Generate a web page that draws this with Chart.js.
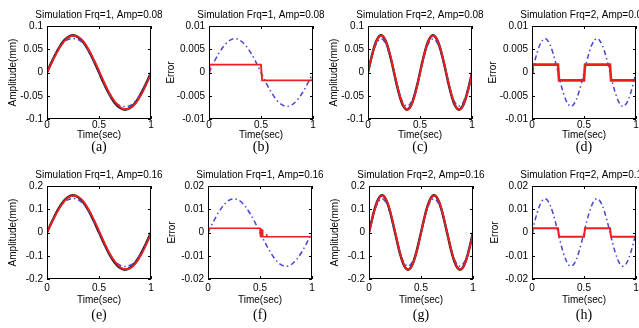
<!DOCTYPE html>
<html>
<head>
<meta charset="utf-8">
<script src="https://cdn.jsdelivr.net/npm/chart.js@4/dist/chart.umd.min.js"></script>
<style>
  html, body { margin: 0; padding: 0; background: #fff; }
  body { position: relative; width: 639px; height: 328px; overflow: hidden; }
  canvas { position: absolute; }
</style>
</head>
<body>
<script>
// time axes
const tF1 = [0, 0.05, 0.1, 0.15, 0.2, 0.25, 0.3, 0.35, 0.4, 0.45, 0.5, 0.55, 0.6, 0.65, 0.7, 0.75, 0.8, 0.85, 0.9, 0.95, 1];
const tF2 = [0, 0.025, 0.05, 0.075, 0.1, 0.125, 0.15, 0.175, 0.2, 0.225, 0.25, 0.275, 0.3, 0.325, 0.35, 0.375, 0.4, 0.425, 0.45, 0.475,
             0.5, 0.525, 0.55, 0.575, 0.6, 0.625, 0.65, 0.675, 0.7, 0.725, 0.75, 0.775, 0.8, 0.825, 0.85, 0.875, 0.9, 0.925, 0.95, 0.975, 1];

// (a) Frq=1, Amp=0.08
const refA = [0, 0.025, 0.047, 0.065, 0.076, 0.080, 0.076, 0.065, 0.047, 0.025, 0, -0.025, -0.047, -0.065, -0.076, -0.080, -0.076, -0.065, -0.047, -0.025, 0];
const outA = [0, 0.023, 0.045, 0.063, 0.075, 0.079, 0.077, 0.067, 0.050, 0.028, 0.004, -0.021, -0.044, -0.062, -0.074, -0.079, -0.077, -0.067, -0.050, -0.028, -0.003];
const estA = [0, 0.026, 0.047, 0.062, 0.071, 0.073, 0.071, 0.062, 0.046, 0.025, 0.001, -0.024, -0.046, -0.062, -0.071, -0.073, -0.071, -0.062, -0.046, -0.025, 0];

// (c) Frq=2, Amp=0.08
const refC = [0, 0.025, 0.047, 0.065, 0.076, 0.080, 0.076, 0.065, 0.047, 0.025, 0, -0.025, -0.047, -0.065, -0.076, -0.080, -0.076, -0.065, -0.047, -0.025,
              0, 0.025, 0.047, 0.065, 0.076, 0.080, 0.076, 0.065, 0.047, 0.025, 0, -0.025, -0.047, -0.065, -0.076, -0.080, -0.076, -0.065, -0.047, -0.025, 0];
const outC = [0, 0.023, 0.046, 0.064, 0.075, 0.079, 0.077, 0.066, 0.049, 0.027, 0.003, -0.022, -0.045, -0.063, -0.075, -0.079, -0.077, -0.066, -0.049, -0.027,
              -0.002, 0.023, 0.046, 0.064, 0.075, 0.079, 0.077, 0.066, 0.049, 0.027, 0.003, -0.022, -0.045, -0.063, -0.075, -0.079, -0.077, -0.066, -0.049, -0.027, -0.002];
const estC = [0, 0.024, 0.044, 0.059, 0.069, 0.072, 0.069, 0.059, 0.043, 0.023, 0, -0.023, -0.043, -0.059, -0.069, -0.072, -0.069, -0.059, -0.043, -0.023,
              0, 0.023, 0.043, 0.059, 0.069, 0.072, 0.069, 0.059, 0.043, 0.023, 0, -0.023, -0.043, -0.059, -0.069, -0.072, -0.069, -0.059, -0.043, -0.023, 0];

// (e) Frq=1, Amp=0.16
const refE = [0, 0.049, 0.094, 0.129, 0.152, 0.160, 0.152, 0.129, 0.094, 0.049, 0, -0.049, -0.094, -0.129, -0.152, -0.160, -0.152, -0.129, -0.094, -0.049, 0];
const outE = [0, 0.046, 0.090, 0.126, 0.150, 0.158, 0.154, 0.134, 0.100, 0.056, 0.008, -0.042, -0.088, -0.124, -0.148, -0.158, -0.154, -0.134, -0.100, -0.056, -0.006];
const estE = [0, 0.050, 0.092, 0.122, 0.140, 0.146, 0.141, 0.123, 0.092, 0.050, 0.002, -0.047, -0.091, -0.122, -0.140, -0.146, -0.141, -0.123, -0.092, -0.050, 0];

// (g) Frq=2, Amp=0.16
const refG = [0, 0.049, 0.094, 0.129, 0.152, 0.160, 0.152, 0.129, 0.094, 0.049, 0, -0.049, -0.094, -0.129, -0.152, -0.160, -0.152, -0.129, -0.094, -0.049,
              0, 0.049, 0.094, 0.129, 0.152, 0.160, 0.152, 0.129, 0.094, 0.049, 0, -0.049, -0.094, -0.129, -0.152, -0.160, -0.152, -0.129, -0.094, -0.049, 0];
const outG = [0, 0.046, 0.092, 0.128, 0.150, 0.158, 0.154, 0.132, 0.098, 0.054, 0.006, -0.044, -0.090, -0.126, -0.150, -0.158, -0.154, -0.132, -0.098, -0.054,
              -0.004, 0.046, 0.092, 0.128, 0.150, 0.158, 0.154, 0.132, 0.098, 0.054, 0.006, -0.044, -0.090, -0.126, -0.150, -0.158, -0.154, -0.132, -0.098, -0.054, -0.004];
const estG = [0, 0.047, 0.087, 0.119, 0.138, 0.145, 0.138, 0.119, 0.087, 0.046, 0, -0.046, -0.087, -0.119, -0.138, -0.145, -0.138, -0.119, -0.087, -0.046,
              0, 0.046, 0.087, 0.119, 0.138, 0.145, 0.138, 0.119, 0.087, 0.046, 0, -0.046, -0.087, -0.119, -0.138, -0.145, -0.138, -0.119, -0.087, -0.046, 0];

// error curves (blue dash-dot)
const errB = [0, 0.0023, 0.0043, 0.0059, 0.0069, 0.0073, 0.0069, 0.0059, 0.0043, 0.0023, 0, -0.0023, -0.0043, -0.0059, -0.0069, -0.0073, -0.0069, -0.0059, -0.0043, -0.0023, 0];
const errD = [0, 0.0023, 0.0043, 0.0059, 0.0069, 0.0073, 0.0069, 0.0059, 0.0043, 0.0023, 0, -0.0023, -0.0043, -0.0059, -0.0069, -0.0073, -0.0069, -0.0059, -0.0043, -0.0023,
              0, 0.0023, 0.0043, 0.0059, 0.0069, 0.0073, 0.0069, 0.0059, 0.0043, 0.0023, 0, -0.0023, -0.0043, -0.0059, -0.0069, -0.0073, -0.0069, -0.0059, -0.0043, -0.0023, 0];
const errF = [0, 0.0045, 0.0085, 0.0117, 0.0138, 0.0145, 0.0138, 0.0117, 0.0085, 0.0045, 0, -0.0045, -0.0085, -0.0117, -0.0138, -0.0145, -0.0138, -0.0117, -0.0085, -0.0045, 0];
const errH = [0, 0.0045, 0.0085, 0.0117, 0.0138, 0.0145, 0.0138, 0.0117, 0.0085, 0.0045, 0, -0.0045, -0.0085, -0.0117, -0.0138, -0.0145, -0.0138, -0.0117, -0.0085, -0.0045,
              0, 0.0045, 0.0085, 0.0117, 0.0138, 0.0145, 0.0138, 0.0117, 0.0085, 0.0045, 0, -0.0045, -0.0085, -0.0117, -0.0138, -0.0145, -0.0138, -0.0117, -0.0085, -0.0045, 0];

// switching error (red step lines)
const stepTB = [0, 0.005, 0.5, 0.51, 0.995, 1];
const stepB  = [0, 0.0017, 0.0017, -0.0017, -0.0017, 0];
const stepTD = [0, 0.005, 0.25, 0.26, 0.5, 0.51, 0.75, 0.76, 1];
const stepD  = [0, 0.0017, 0.0017, -0.0017, -0.0017, 0.0017, 0.0017, -0.0017, -0.0017];
const stepTF = [0, 0.005, 0.5, 0.503, 0.506, 0.51, 0.514, 0.518, 0.522, 0.526, 0.53, 0.56, 0.563, 0.566, 0.995, 1];
const stepF  = [0, 0.0018, 0.0018, -0.0018, 0.0018, -0.0018, 0.0016, -0.0018, 0.0012, -0.0018, -0.0018, -0.0018, -0.0006, -0.0018, -0.0018, 0];
const stepTH = [0, 0.005, 0.25, 0.26, 0.5, 0.51, 0.75, 0.76, 1];
const stepH  = [0, 0.0018, 0.0018, -0.0018, -0.0018, 0.0018, 0.0018, -0.0018, -0.0018];

// tick labels
const xTicks = [0, 0.5, 1];
const xLabels = ['0', '0.5', '1'];
const yTicks08 = [-0.1, -0.05, 0, 0.05, 0.1];
const yLabels08 = ['-0.1', '-0.05', '0', '0.05', '0.1'];
const yTicks16 = [-0.2, -0.1, 0, 0.1, 0.2];
const yLabels16 = ['-0.2', '-0.1', '0', '0.1', '0.2'];
const yTicksE1 = [-0.01, -0.005, 0, 0.005, 0.01];
const yLabelsE1 = ['-0.01', '-0.005', '0', '0.005', '0.01'];
const yTicksE2 = [-0.02, -0.01, 0, 0.01, 0.02];
const yLabelsE2 = ['-0.02', '-0.01', '0', '0.01', '0.02'];

Chart.defaults.color = '#000';
Chart.defaults.font.family = '"Liberation Sans", Arial, sans-serif';
Chart.defaults.font.size = 10;

const RED = 'rgb(238,30,30)';
const BLUE = 'rgb(70,70,210)';

function pts(xs, ys) {
  return xs.map((x, i) => ({ x: x, y: ys[i] }));
}

// Chart.js paints dataset 0 last, so the top-most line goes first
function ampSeries(t, ref, out, est) {
  return [
    { data: pts(t, out), borderColor: RED, borderWidth: 1.8, cubicInterpolationMode: 'monotone' },
    { data: pts(t, est), borderColor: BLUE, borderWidth: 1.5, borderDash: [5, 3, 1.5, 3], cubicInterpolationMode: 'monotone' },
    { data: pts(t, ref), borderColor: '#222', borderWidth: 2.4, cubicInterpolationMode: 'monotone' }
  ];
}

function errSeries(t, err, st, sv, w) {
  return [
    { data: pts(st, sv), borderColor: RED, borderWidth: w, tension: 0 },
    { data: pts(t, err), borderColor: BLUE, borderWidth: 1.5, borderDash: [5, 3, 1.5, 3], cubicInterpolationMode: 'monotone' }
  ];
}

// box around the axes, inward ticks, panel title and caption
const framePlugin = {
  id: 'frame',
  afterDraw(chart, args, opts) {
    const { ctx, chartArea: a } = chart;
    const x = chart.scales.x, y = chart.scales.y;
    ctx.save();
    ctx.strokeStyle = '#000';
    ctx.lineWidth = 1;
    ctx.strokeRect(Math.round(a.left) + 0.5, Math.round(a.top) + 0.5, Math.round(a.width) - 1, Math.round(a.height) - 1);
    ctx.beginPath();
    y.ticks.forEach(tk => {
      const py = Math.round(y.getPixelForValue(tk.value)) + 0.5;
      ctx.moveTo(a.left, py); ctx.lineTo(a.left + 3, py);
      ctx.moveTo(a.right - 3, py); ctx.lineTo(a.right, py);
    });
    x.ticks.forEach(tk => {
      const px = Math.round(x.getPixelForValue(tk.value)) + 0.5;
      ctx.moveTo(px, a.bottom); ctx.lineTo(px, a.bottom - 3);
      ctx.moveTo(px, a.top); ctx.lineTo(px, a.top + 3);
    });
    ctx.stroke();
    const cx = (a.left + a.right) / 2;
    ctx.fillStyle = '#000';
    ctx.textAlign = 'center';
    ctx.textBaseline = 'middle';
    ctx.font = '10px "Liberation Sans", Arial, sans-serif';
    ctx.fillText(opts.title, cx, a.top - 11);
    ctx.font = '14px "Liberation Serif", "Times New Roman", serif';
    ctx.fillText(opts.caption, cx, a.bottom + opts.capOff);
    ctx.restore();
  }
};

const panels = [
  { left: 0,   top: 0,   title: 'Simulation Frq=1, Amp=0.08', caption: '(a)', yTitle: 'Amplitude(mm)', yPad: 7, yT: yTicks08, yL: yLabels08, sets: ampSeries(tF1, refA, outA, estA) },
  { left: 162, top: 0,   title: 'Simulation Frq=1, Amp=0.08', caption: '(b)', yTitle: 'Error', yPad: 3, yT: yTicksE1, yL: yLabelsE1, sets: errSeries(tF1, errB, stepTB, stepB, 1.8) },
  { left: 321, top: 0,   title: 'Simulation Frq=2, Amp=0.08', caption: '(c)', yTitle: 'Amplitude(mm)', yPad: 7, yT: yTicks08, yL: yLabels08, sets: ampSeries(tF2, refC, outC, estC) },
  { left: 485, top: 0,   title: 'Simulation Frq=2, Amp=0.08', caption: '(d)', yTitle: 'Error', yPad: 2, yT: yTicksE1, yL: yLabelsE1, sets: errSeries(tF2, errD, stepTD, stepD, 2.6) },
  { left: 0,   top: 160, title: 'Simulation Frq=1, Amp=0.16', caption: '(e)', yTitle: 'Amplitude(mm)', yPad: 7, yT: yTicks16, yL: yLabels16, sets: ampSeries(tF1, refE, outE, estE) },
  { left: 161, top: 160, title: 'Simulation Frq=1, Amp=0.16', caption: '(f)', yTitle: 'Error', yPad: 5, yT: yTicksE2, yL: yLabelsE2, sets: errSeries(tF1, errF, stepTF, stepF, 1.6) },
  { left: 322, top: 160, title: 'Simulation Frq=2, Amp=0.16', caption: '(g)', yTitle: 'Amplitude(mm)', yPad: 7, yT: yTicks16, yL: yLabels16, sets: ampSeries(tF2, refG, outG, estG) },
  { left: 485, top: 160, title: 'Simulation Frq=2, Amp=0.16', caption: '(h)', yTitle: 'Error', yPad: 4, yT: yTicksE2, yL: yLabelsE2, sets: errSeries(tF2, errH, stepTH, stepH, 2) }
];

panels.forEach(p => {
  const bottomRow = p.top > 0;
  const canvas = document.createElement('canvas');
  canvas.width = 180;
  canvas.height = 164;
  canvas.style.left = p.left + 'px';
  canvas.style.top = p.top + 'px';
  document.body.appendChild(canvas);

  p.sets.forEach(s => { s.pointRadius = 0; s.fill = false; });

  new Chart(canvas.getContext('2d'), {
    type: 'line',
    data: { datasets: p.sets },
    plugins: [framePlugin],
    options: {
      responsive: false,
      devicePixelRatio: 1,
      animation: false,
      events: [],
      layout: { padding: { top: 26, right: 29, bottom: 15, left: 0 } },
      plugins: {
        legend: { display: false },
        tooltip: { enabled: false },
        frame: { title: p.title, caption: p.caption, capOff: bottomRow ? 36 : 28 }
      },
      scales: {
        x: {
          type: 'linear', min: 0, max: 1,
          afterBuildTicks: s => { s.ticks = xTicks.map(v => ({ value: v })); },
          afterFit: s => { s.height = 30; },
          grid: { display: false, drawTicks: false },
          border: { display: false },
          ticks: { padding: bottomRow ? 3 : 0, maxRotation: 0, autoSkip: false, callback: (v, i) => xLabels[i] },
          title: { display: true, text: 'Time(sec)', padding: { top: 0, bottom: bottomRow ? 3 : 8 } }
        },
        y: {
          type: 'linear', min: p.yT[0], max: p.yT[p.yT.length - 1],
          afterBuildTicks: s => { s.ticks = p.yT.map(v => ({ value: v })); },
          afterFit: s => { s.width = 47; },
          grid: { display: false, drawTicks: false },
          border: { display: false },
          ticks: { padding: 4, autoSkip: false, callback: (v, i) => p.yL[i] },
          title: { display: true, text: p.yTitle, padding: { top: p.yPad, bottom: 0 } }
        }
      }
    }
  });
});
</script>
</body>
</html>
